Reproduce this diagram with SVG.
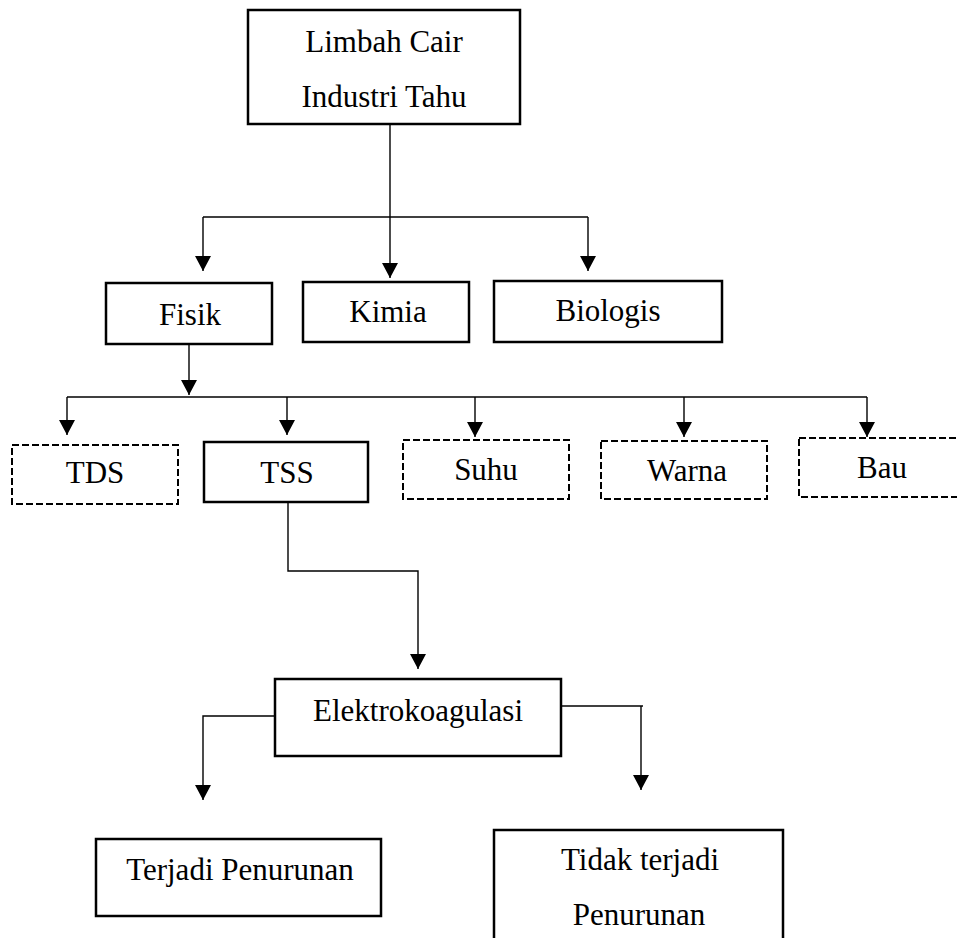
<svg xmlns="http://www.w3.org/2000/svg" width="957" height="938" viewBox="0 0 957 938">
<style>
.box{fill:#fff;stroke:#000;stroke-width:2.5}
.dash{fill:#fff;stroke:#000;stroke-width:2;stroke-dasharray:7 3}
.lbl{font-family:"Liberation Serif","Times New Roman",serif;font-size:31px;fill:#000;text-anchor:middle}
.ln{fill:none;stroke:#000;stroke-width:1.4}
</style>
<defs>
<marker id="ah" markerUnits="userSpaceOnUse" markerWidth="16" markerHeight="16" viewBox="0 0 14 15" refX="14" refY="7.5" orient="auto">
<path d="M0,0 L14,7.5 L0,15 z" fill="#000"/>
</marker>
</defs>
<rect width="957" height="938" fill="#fff"/>
<g id="connectors">
<path class="ln" d="M390,125 V278" marker-end="url(#ah)"/>
<path class="ln" d="M203,217 H588"/>
<path class="ln" d="M203,217 V271" marker-end="url(#ah)"/>
<path class="ln" d="M588,217 V271" marker-end="url(#ah)"/>
<path class="ln" d="M189,344 V395" marker-end="url(#ah)"/>
<path class="ln" d="M67,397 H867"/>
<path class="ln" d="M67,397 V435" marker-end="url(#ah)"/>
<path class="ln" d="M287,397 V435" marker-end="url(#ah)"/>
<path class="ln" d="M475,397 V437" marker-end="url(#ah)"/>
<path class="ln" d="M684,397 V437" marker-end="url(#ah)"/>
<path class="ln" d="M867,397 V437" marker-end="url(#ah)"/>
<path class="ln" d="M288,502 V571 H418 V669" marker-end="url(#ah)"/>
<path class="ln" d="M275,716 H203 V800" marker-end="url(#ah)"/>
<path class="ln" d="M561,706 H643"/>
<path class="ln" d="M641,706 V790" marker-end="url(#ah)"/>
</g>
<g id="limbah">
<rect class="box" x="248" y="10" width="272" height="114"/>
<text class="lbl" x="384" y="52">Limbah Cair</text>
<text class="lbl" x="384" y="107">Industri Tahu</text>
</g>
<g id="fisik">
<rect class="box" x="106" y="283" width="166" height="61"/>
<text class="lbl" x="190" y="325">Fisik</text>
</g>
<g id="kimia">
<rect class="box" x="303" y="282" width="166" height="60"/>
<text class="lbl" x="388" y="322">Kimia</text>
</g>
<g id="biologis">
<rect class="box" x="494" y="281" width="228" height="61"/>
<text class="lbl" x="608" y="321">Biologis</text>
</g>
<g id="tds">
<rect class="dash" x="12" y="445" width="166" height="59"/>
<text class="lbl" x="95" y="483">TDS</text>
</g>
<g id="tss">
<rect class="box" x="204" y="442" width="164" height="60"/>
<text class="lbl" x="287" y="483">TSS</text>
</g>
<g id="suhu">
<rect class="dash" x="403" y="440" width="166" height="59"/>
<text class="lbl" x="486" y="480">Suhu</text>
</g>
<g id="warna">
<rect class="dash" x="601" y="441" width="166" height="58"/>
<text class="lbl" x="687" y="481">Warna</text>
</g>
<g id="bau">
<rect class="dash" x="799" y="438" width="200" height="59"/>
<text class="lbl" x="882" y="478">Bau</text>
</g>
<g id="elektrokoagulasi">
<rect class="box" x="275" y="679" width="286" height="77"/>
<text class="lbl" x="418" y="721">Elektrokoagulasi</text>
</g>
<g id="terjadi">
<rect class="box" x="96" y="839" width="285" height="77"/>
<text class="lbl" x="240" y="880">Terjadi Penurunan</text>
</g>
<g id="tidak">
<rect class="box" x="494" y="830" width="289" height="150"/>
<text class="lbl" x="640" y="870">Tidak terjadi</text>
<text class="lbl" x="639" y="925">Penurunan</text>
</g>
</svg>
